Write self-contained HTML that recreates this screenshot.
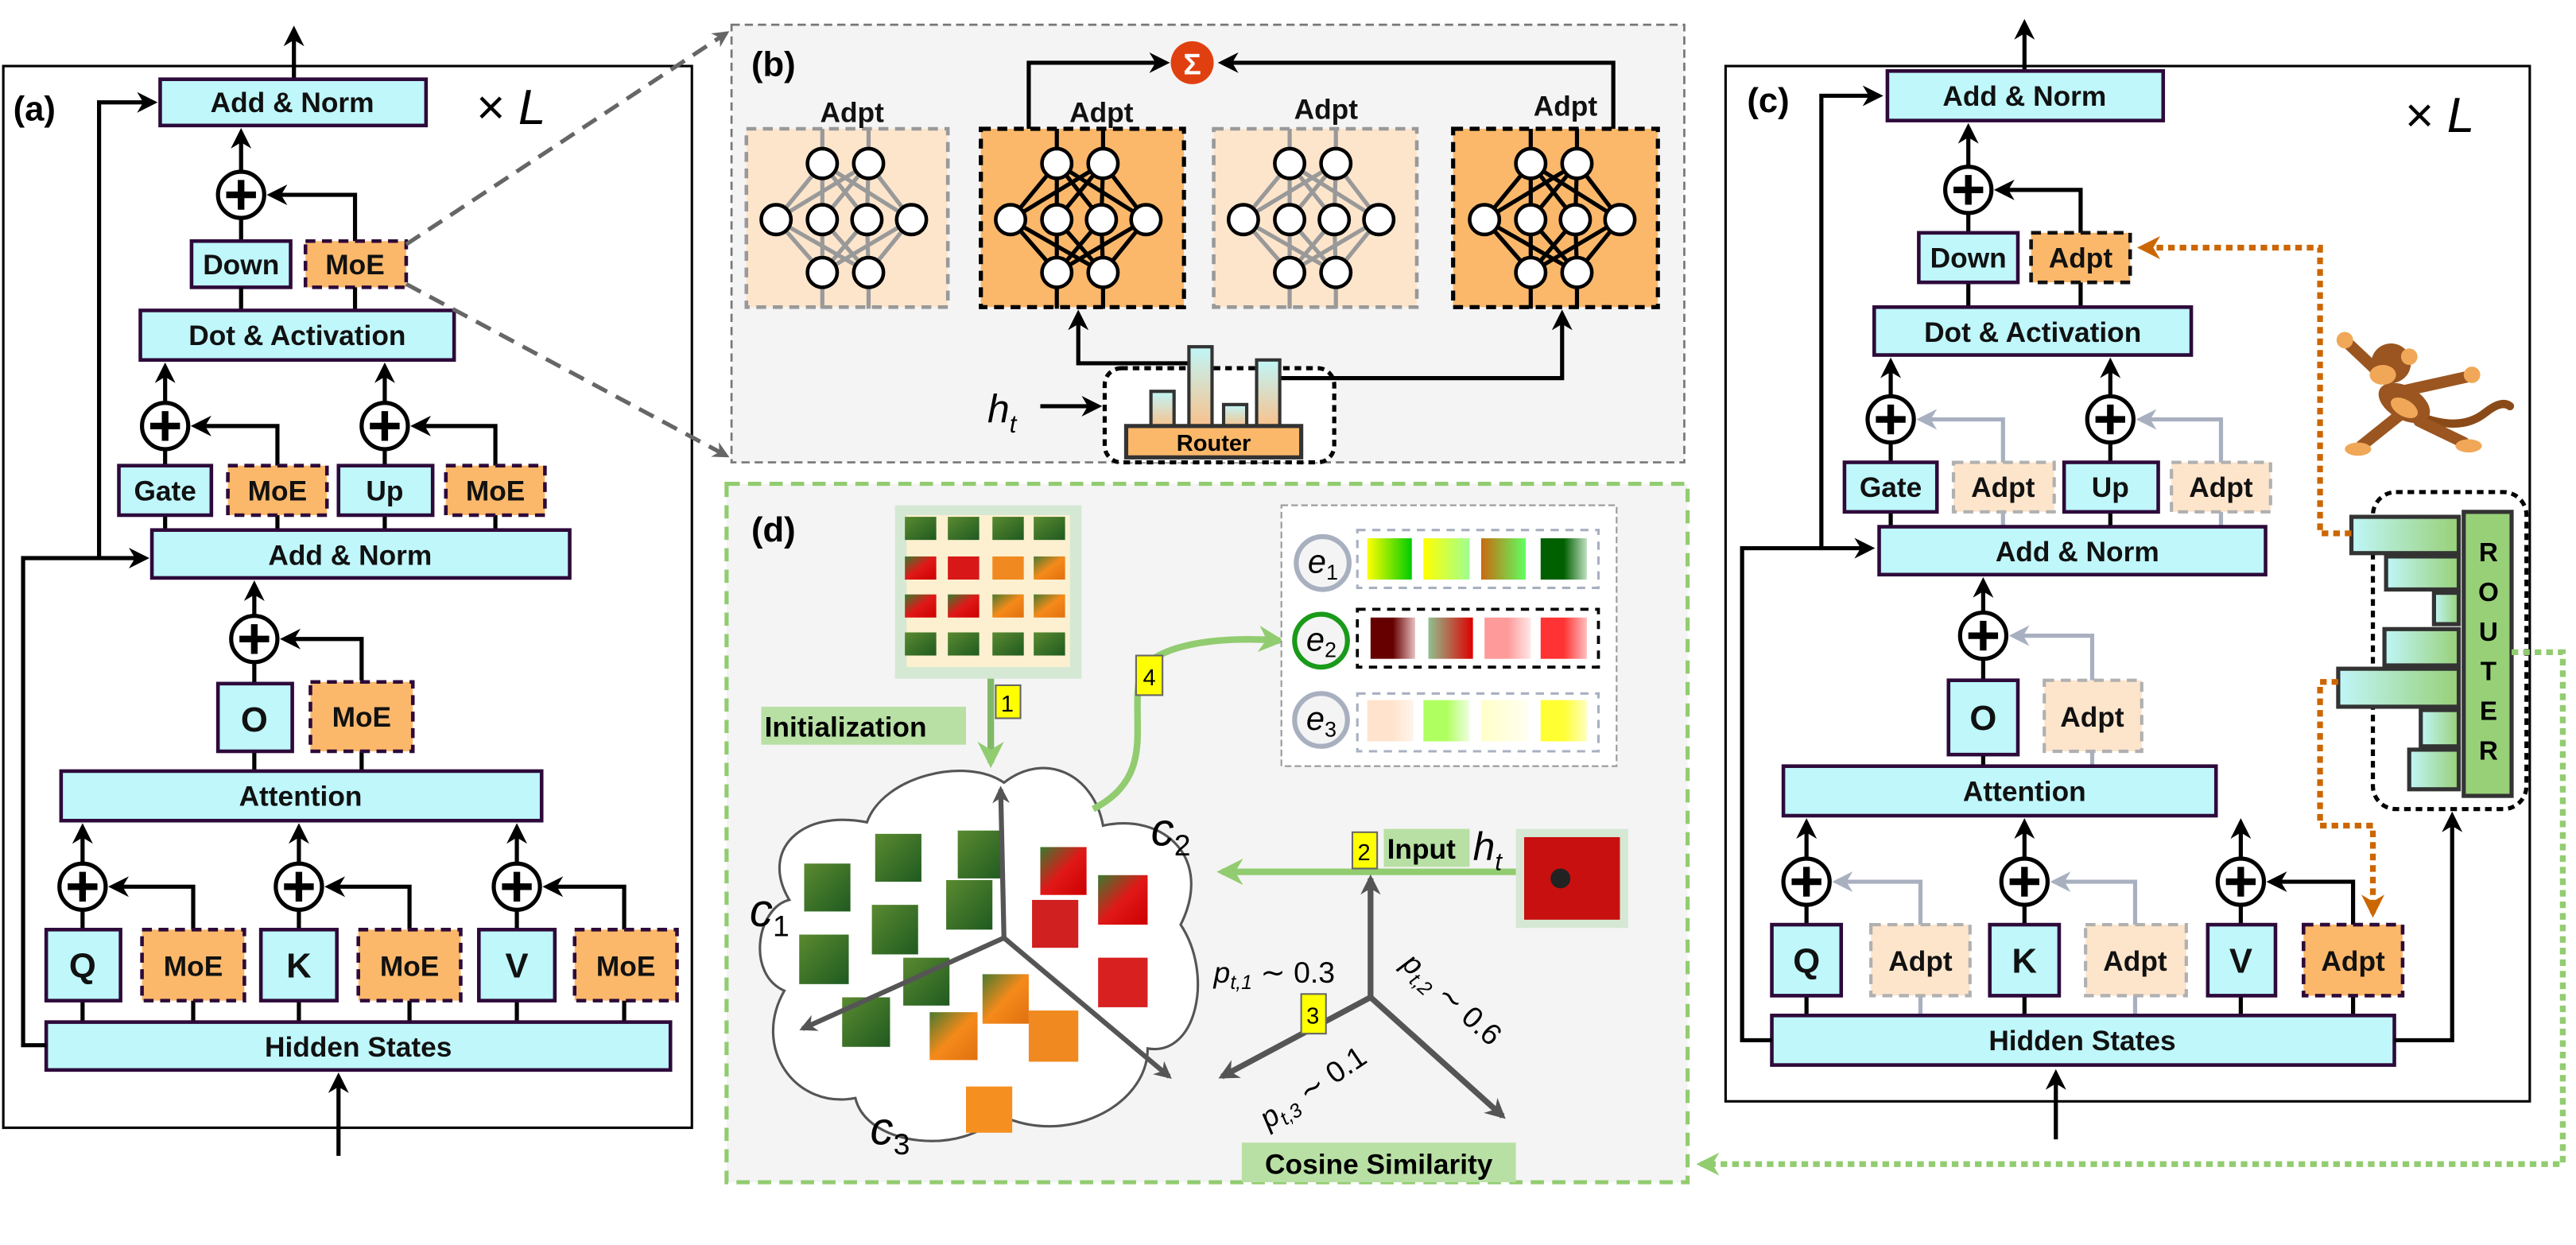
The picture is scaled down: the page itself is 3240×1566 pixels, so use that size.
<!DOCTYPE html>
<html><head><meta charset="utf-8"><style>
html,body{margin:0;padding:0;background:#fff;}
svg{display:block;}
text{font-family:"Liberation Sans",sans-serif;}
.b{fill:#bff7fb;stroke:#2d0a3a;stroke-width:2.2;}
.m{fill:#fbb86a;stroke:#2d0a3a;stroke-width:2.2;stroke-dasharray:6 4;}
.ma{fill:#fbb86a;stroke:#111;stroke-width:2.2;stroke-dasharray:6 4;}
.la{fill:#fde5cc;stroke:#b0b0b0;stroke-width:2;stroke-dasharray:6 4;}
.t{font-weight:bold;font-size:17px;text-anchor:middle;fill:#111;}
.tl{font-weight:bold;font-size:21px;text-anchor:middle;fill:#111;}
.k{stroke:#000;stroke-width:2.5;fill:none;}
.g{stroke:#a8b0c0;stroke-width:2.5;fill:none;}
.n{fill:#fff;stroke:#000;stroke-width:2.2;}
</style></head><body>
<svg width="3240" height="1566" viewBox="0 0 1560 754" xmlns="http://www.w3.org/2000/svg">
<defs>
<marker id="ah" viewBox="0 0 10 10" refX="8" refY="5" markerWidth="5" markerHeight="5" orient="auto"><path d="M0,0 L10,5 L0,10 L3,5z" fill="#000"/></marker>
<marker id="ahg" viewBox="0 0 10 10" refX="8" refY="5" markerWidth="5" markerHeight="5" orient="auto"><path d="M0,0 L10,5 L0,10 L3,5z" fill="#a8b0c0"/></marker>
<marker id="ahd" viewBox="0 0 10 10" refX="8" refY="5" markerWidth="4" markerHeight="4" orient="auto"><path d="M0,0 L10,5 L0,10 L3,5z" fill="#666"/></marker>
<marker id="aho" viewBox="0 0 10 10" refX="8" refY="5" markerWidth="4" markerHeight="4" orient="auto"><path d="M0,0 L10,5 L0,10 L3,5z" fill="#cc6600"/></marker>
<marker id="ahgr" viewBox="0 0 10 10" refX="8" refY="5" markerWidth="4" markerHeight="4" orient="auto"><path d="M0,0 L10,5 L0,10 L3,5z" fill="#92cc70"/></marker>
<marker id="ahdk" viewBox="0 0 10 10" refX="8" refY="5" markerWidth="3.5" markerHeight="3.5" orient="auto"><path d="M0,0 L10,5 L0,10 L3,5z" fill="#555"/></marker>
<g id="plus"><circle r="14" fill="#fff" stroke="#000" stroke-width="2.5"/><path d="M-9,0H9M0,-9V9" stroke="#000" stroke-width="4"/></g>
<g id="net">
<path d="M46,0V21M74,0V21M46,87V109M74,87V109M46,21L18,55M46,21L46,55M46,21L73,55M46,21L100,55M74,21L18,55M74,21L46,55M74,21L73,55M74,21L100,55M18,55L46,87M46,55L46,87M73,55L46,87M100,55L46,87M18,55L74,87M46,55L74,87M73,55L74,87M100,55L74,87" stroke="currentColor" stroke-width="2.5" fill="none"/>
<circle class="n" cx="46" cy="21" r="9"/><circle class="n" cx="74" cy="21" r="9"/>
<circle class="n" cx="18" cy="55" r="9"/><circle class="n" cx="46" cy="55" r="9"/><circle class="n" cx="73" cy="55" r="9"/><circle class="n" cx="100" cy="55" r="9"/>
<circle class="n" cx="46" cy="87" r="9"/><circle class="n" cx="74" cy="87" r="9"/>
</g>
<linearGradient id="tg" x1="0" x2="0" y1="0" y2="1"><stop offset="0" stop-color="#c0f6f8"/><stop offset="1" stop-color="#f9c08a"/></linearGradient>
<linearGradient id="rg" x1="0" x2="1"><stop offset="0" stop-color="#c0f6f8"/><stop offset="1" stop-color="#98d078"/></linearGradient>
<linearGradient id="gr1" x1="0" x2="1" y1="0" y2="1"><stop offset="0" stop-color="#5a8a30"/><stop offset="1" stop-color="#1f5a20"/></linearGradient>
<linearGradient id="rd1" x1="0" x2="1" y1="0" y2="1"><stop offset="0" stop-color="#3a7a30"/><stop offset=".5" stop-color="#e01818"/><stop offset="1" stop-color="#c00"/></linearGradient>
<linearGradient id="or1" x1="0" x2="1" y1="0" y2="1"><stop offset="0" stop-color="#4a7a30"/><stop offset=".5" stop-color="#f58a1a"/><stop offset="1" stop-color="#e07010"/></linearGradient>
<linearGradient id="s1" x1="0" x2="1"><stop offset="0" stop-color="#ff0"/><stop offset="1" stop-color="#0c0"/></linearGradient>
<linearGradient id="s2" x1="0" x2="1"><stop offset="0" stop-color="#ff0"/><stop offset="1" stop-color="#a0ff90"/></linearGradient>
<linearGradient id="s3" x1="0" x2="1"><stop offset="0" stop-color="#c86a10"/><stop offset="1" stop-color="#60ff60"/></linearGradient>
<linearGradient id="s4" x1="0" x2="1"><stop offset=".5" stop-color="#006000"/><stop offset="1" stop-color="#c0e0c0"/></linearGradient>
<linearGradient id="s5" x1="0" x2="1"><stop offset=".5" stop-color="#600"/><stop offset="1" stop-color="#e8c0c0"/></linearGradient>
<linearGradient id="s6" x1="0" x2="1"><stop offset="0" stop-color="#90c090"/><stop offset="1" stop-color="#d00"/></linearGradient>
<linearGradient id="s7" x1="0" x2="1"><stop offset=".5" stop-color="#ff9a9a"/><stop offset="1" stop-color="#ffe8e8"/></linearGradient>
<linearGradient id="s8" x1="0" x2="1"><stop offset=".5" stop-color="#f33"/><stop offset="1" stop-color="#ffc0c0"/></linearGradient>
<linearGradient id="s9" x1="0" x2="1"><stop offset=".5" stop-color="#ffe3cc"/><stop offset="1" stop-color="#fff4ea"/></linearGradient>
<linearGradient id="s10" x1="0" x2="1"><stop offset=".5" stop-color="#b0ff60"/><stop offset="1" stop-color="#f0ffe0"/></linearGradient>
<linearGradient id="s11" x1="0" x2="1"><stop offset="0" stop-color="#ffffc8"/><stop offset="1" stop-color="#fffff0"/></linearGradient>
<linearGradient id="s12" x1="0" x2="1"><stop offset=".5" stop-color="#ff3"/><stop offset="1" stop-color="#ffffc0"/></linearGradient>
</defs>

<!-- ================= PANEL A ================= -->
<rect x="2" y="40" width="417" height="643" fill="none" stroke="#000" stroke-width="1.5"/>
<text x="8" y="73" font-size="21" font-weight="bold">(a)</text>
<text x="288" y="75" font-family="Liberation Serif" font-size="30" font-style="italic">× L</text>
<line class="k" x1="178" y1="48" x2="178" y2="18" marker-end="url(#ah)"/>
<rect class="b" x="97" y="48" width="161" height="28"/><text class="t" x="177" y="68">Add &amp; Norm</text>
<use href="#plus" x="146" y="118"/>
<line class="k" x1="146" y1="104" x2="146" y2="80" marker-end="url(#ah)"/>
<path class="k" d="M215,146V118H164" marker-end="url(#ah)"/>
<line class="k" x1="146" y1="132" x2="146" y2="146"/>
<rect class="b" x="116" y="146" width="60" height="28"/><text class="t" x="146" y="166">Down</text>
<rect class="m" x="185" y="146" width="61" height="28"/><text class="t" x="215" y="166">MoE</text>
<path class="k" d="M146,174V188M215,174V188"/>
<rect class="b" x="85" y="188" width="190" height="30"/><text class="t" x="180" y="209">Dot &amp; Activation</text>
<use href="#plus" x="100" y="258"/><use href="#plus" x="233" y="258"/>
<line class="k" x1="100" y1="244" x2="100" y2="222" marker-end="url(#ah)"/>
<line class="k" x1="233" y1="244" x2="233" y2="222" marker-end="url(#ah)"/>
<path class="k" d="M168,282V258H118" marker-end="url(#ah)"/>
<path class="k" d="M300,282V258H251" marker-end="url(#ah)"/>
<path class="k" d="M100,272V282M233,272V282M100,312V321M168,312V321M233,312V321M300,312V321"/>
<rect class="b" x="72" y="282" width="56" height="30"/><text class="t" x="100" y="303">Gate</text>
<rect class="m" x="138" y="282" width="60" height="30"/><text class="t" x="168" y="303">MoE</text>
<rect class="b" x="205" y="282" width="57" height="30"/><text class="t" x="233" y="303">Up</text>
<rect class="m" x="270" y="282" width="60" height="30"/><text class="t" x="300" y="303">MoE</text>
<rect class="b" x="92" y="321" width="253" height="29"/><text class="t" x="212" y="342">Add &amp; Norm</text>
<use href="#plus" x="154" y="387"/>
<line class="k" x1="154" y1="373" x2="154" y2="354" marker-end="url(#ah)"/>
<path class="k" d="M219,412V387H172" marker-end="url(#ah)"/>
<path class="k" d="M154,401V414M154,455V467M219,455V467"/>
<rect class="b" x="132" y="414" width="45" height="41"/><text class="tl" x="154" y="443">O</text>
<rect class="m" x="188" y="413" width="62" height="42"/><text class="t" x="219" y="440">MoE</text>
<rect class="b" x="37" y="467" width="291" height="30"/><text class="t" x="182" y="488">Attention</text>
<use href="#plus" x="50" y="537"/><use href="#plus" x="181" y="537"/><use href="#plus" x="313" y="537"/>
<line class="k" x1="50" y1="523" x2="50" y2="501" marker-end="url(#ah)"/>
<line class="k" x1="181" y1="523" x2="181" y2="501" marker-end="url(#ah)"/>
<line class="k" x1="313" y1="523" x2="313" y2="501" marker-end="url(#ah)"/>
<path class="k" d="M117,563V537H68" marker-end="url(#ah)"/>
<path class="k" d="M248,563V537H199" marker-end="url(#ah)"/>
<path class="k" d="M378,563V537H331" marker-end="url(#ah)"/>
<path class="k" d="M50,551V563M181,551V563M313,551V563M50,606V619M117,606V619M181,606V619M248,606V619M313,606V619M378,606V619"/>
<rect class="b" x="28" y="563" width="45" height="43"/><text class="tl" x="50" y="592">Q</text>
<rect class="m" x="86" y="563" width="62" height="43"/><text class="t" x="117" y="591">MoE</text>
<rect class="b" x="158" y="563" width="46" height="43"/><text class="tl" x="181" y="592">K</text>
<rect class="m" x="217" y="563" width="62" height="43"/><text class="t" x="248" y="591">MoE</text>
<rect class="b" x="290" y="563" width="46" height="43"/><text class="tl" x="313" y="592">V</text>
<rect class="m" x="348" y="563" width="62" height="43"/><text class="t" x="379" y="591">MoE</text>
<rect class="b" x="28" y="619" width="378" height="29"/><text class="t" x="217" y="640">Hidden States</text>
<line class="k" x1="205" y1="700" x2="205" y2="652" marker-end="url(#ah)"/>
<path class="k" d="M28,633H14V338H88" marker-end="url(#ah)"/>
<path class="k" d="M60,338V62H93" marker-end="url(#ah)"/>
<line x1="246" y1="148" x2="440" y2="20" stroke="#666" stroke-width="2.5" stroke-dasharray="10 6" marker-end="url(#ahd)"/>
<line x1="246" y1="172" x2="440" y2="276" stroke="#666" stroke-width="2.5" stroke-dasharray="10 6" marker-end="url(#ahd)"/>

<!-- ================= PANEL B ================= -->
<rect x="443" y="15" width="577" height="265" fill="#f4f4f4" stroke="#777" stroke-width="1.3" stroke-dasharray="5 3"/>
<text x="455" y="46" font-size="21" font-weight="bold">(b)</text>
<rect x="452" y="78" width="122" height="108" fill="#fde5cc" stroke="#999" stroke-width="2.2" stroke-dasharray="6 4"/>
<rect x="594" y="78" width="123" height="108" fill="#fbb86a" stroke="#000" stroke-width="2.5" stroke-dasharray="6 4"/>
<rect x="735" y="78" width="123" height="108" fill="#fde5cc" stroke="#999" stroke-width="2.2" stroke-dasharray="6 4"/>
<rect x="880" y="78" width="124" height="108" fill="#fbb86a" stroke="#000" stroke-width="2.5" stroke-dasharray="6 4"/>
<use href="#net" x="452" y="78" color="#999"/>
<use href="#net" x="594" y="78" color="#000"/>
<use href="#net" x="735" y="78" color="#999"/>
<use href="#net" x="881" y="78" color="#000"/>
<text class="t" x="516" y="74" font-size="16">Adpt</text>
<text class="t" x="667" y="74" font-size="16">Adpt</text>
<text class="t" x="803" y="72" font-size="16">Adpt</text>
<text class="t" x="948" y="70" font-size="16">Adpt</text>
<path class="k" d="M623,78V38H706" marker-end="url(#ah)"/>
<path class="k" d="M977,78V38H740" marker-end="url(#ah)"/>
<circle cx="722" cy="38" r="13" fill="#e0400f"/><text x="722" y="45" font-size="18" text-anchor="middle" fill="#fff" font-weight="bold">Σ</text>
<rect x="669" y="223" width="139" height="57" rx="10" fill="#fff" stroke="#000" stroke-width="2.5" stroke-dasharray="4 3"/>
<path class="k" d="M724,220H653V190" marker-end="url(#ah)"/>
<path class="k" d="M765,229H946V190" marker-end="url(#ah)"/>
<rect x="697" y="237" width="14" height="22" fill="url(#tg)" stroke="#333" stroke-width="2"/>
<rect x="720" y="210" width="14" height="49" fill="url(#tg)" stroke="#333" stroke-width="2"/>
<rect x="741" y="245" width="14" height="14" fill="url(#tg)" stroke="#333" stroke-width="2"/>
<rect x="761" y="218" width="14" height="41" fill="url(#tg)" stroke="#333" stroke-width="2"/>
<rect x="682" y="258" width="106" height="19" fill="#fbb86a" stroke="#333" stroke-width="2.5"/>
<text x="735" y="273" font-size="14" text-anchor="middle" font-weight="bold">Router</text>
<text x="598" y="256" font-family="Liberation Serif" font-size="24" font-style="italic">h<tspan font-size="15" dy="6">t</tspan></text>
<line class="k" x1="630" y1="246" x2="665" y2="246" marker-end="url(#ah)"/>

<!-- ================= PANEL D ================= -->
<rect x="440" y="293" width="582" height="423" fill="#f4f4f4" stroke="#92cc70" stroke-width="2.5" stroke-dasharray="8 5"/>
<text x="455" y="328" font-size="21" font-weight="bold">(d)</text>
<rect x="542" y="306" width="113" height="105" fill="#d5e8d4"/>
<rect x="549" y="312" width="99" height="92" fill="#fdf0d0"/>
<g>
<rect x="548" y="313" width="19" height="14" fill="url(#gr1)"/><rect x="574" y="313" width="19" height="14" fill="url(#gr1)"/><rect x="601" y="313" width="19" height="14" fill="url(#gr1)"/><rect x="626" y="313" width="19" height="14" fill="url(#gr1)"/>
<rect x="548" y="337" width="19" height="14" fill="url(#rd1)"/><rect x="574" y="337" width="19" height="14" fill="#d81818"/><rect x="601" y="337" width="19" height="14" fill="#f08a20"/><rect x="626" y="337" width="19" height="14" fill="url(#or1)"/>
<rect x="548" y="360" width="19" height="14" fill="url(#rd1)"/><rect x="574" y="360" width="19" height="14" fill="url(#rd1)"/><rect x="601" y="360" width="19" height="14" fill="url(#or1)"/><rect x="626" y="360" width="19" height="14" fill="url(#or1)"/>
<rect x="548" y="383" width="19" height="14" fill="url(#gr1)"/><rect x="574" y="383" width="19" height="14" fill="url(#gr1)"/><rect x="601" y="383" width="19" height="14" fill="url(#gr1)"/><rect x="626" y="383" width="19" height="14" fill="url(#gr1)"/>
</g>
<line x1="600" y1="411" x2="600" y2="462" stroke="#80b868" stroke-width="4" marker-end="url(#ahgr)"/>
<rect x="603" y="415" width="15" height="20" fill="#ff0" stroke="#666" stroke-width="1"/><text x="610" y="431" font-size="14" text-anchor="middle">1</text>
<rect x="461" y="428" width="124" height="23" fill="#b8e0a4"/><text x="463" y="446" font-size="17" font-weight="bold">Initialization</text>
<path d="M475,600 C452,590 458,550 478,545 C460,515 485,490 525,498 C535,470 585,458 608,474 C632,455 662,468 668,500 C705,492 735,520 715,560 C735,590 725,640 695,635 C695,670 645,695 605,675 C585,700 525,695 518,665 C482,672 455,635 475,600 Z" fill="#fff" stroke="#555" stroke-width="1.5"/>
<g>
<rect x="530" y="505" width="28" height="29" fill="url(#gr1)"/><rect x="487" y="523" width="28" height="29" fill="url(#gr1)"/>
<rect x="580" y="503" width="28" height="29" fill="url(#gr1)"/><rect x="630" y="513" width="28" height="29" fill="url(#rd1)"/>
<rect x="665" y="530" width="30" height="30" fill="url(#rd1)"/><rect x="528" y="548" width="28" height="30" fill="url(#gr1)"/>
<rect x="573" y="533" width="28" height="30" fill="url(#gr1)"/><rect x="625" y="545" width="28" height="29" fill="#d02020"/>
<rect x="484" y="566" width="30" height="30" fill="url(#gr1)"/><rect x="547" y="580" width="28" height="29" fill="url(#gr1)"/>
<rect x="595" y="590" width="28" height="30" fill="url(#or1)"/><rect x="665" y="580" width="30" height="30" fill="#d82020"/>
<rect x="510" y="604" width="29" height="30" fill="url(#gr1)"/><rect x="563" y="613" width="29" height="29" fill="url(#or1)"/>
<rect x="623" y="612" width="30" height="31" fill="#f08a20"/><rect x="585" y="658" width="28" height="28" fill="#f59020"/>
</g>
<line x1="608" y1="568" x2="606" y2="478" stroke="#555" stroke-width="3" marker-end="url(#ahdk)"/>
<line x1="608" y1="568" x2="486" y2="623" stroke="#555" stroke-width="3" marker-end="url(#ahdk)"/>
<line x1="608" y1="568" x2="708" y2="652" stroke="#555" stroke-width="3" marker-end="url(#ahdk)"/>
<text x="454" y="561" font-family="Liberation Serif" font-size="28" font-style="italic">c<tspan font-size="18" dy="6" font-style="normal">1</tspan></text>
<text x="697" y="512" font-family="Liberation Serif" font-size="28" font-style="italic">c<tspan font-size="18" dy="6" font-style="normal">2</tspan></text>
<text x="527" y="693" font-family="Liberation Serif" font-size="28" font-style="italic">c<tspan font-size="18" dy="6" font-style="normal">3</tspan></text>
<line x1="918" y1="528" x2="740" y2="528" stroke="#92cc70" stroke-width="4" marker-end="url(#ahgr)"/>
<rect x="918" y="502" width="68" height="60" fill="#d5e8d4"/><rect x="923" y="507" width="58" height="50" fill="#c81010"/><circle cx="945" cy="532" r="6" fill="#222"/>
<rect x="838" y="502" width="52" height="23" fill="#b8e0a4"/><text x="840" y="520" font-size="17" font-weight="bold">Input</text>
<text x="892" y="521" font-family="Liberation Serif" font-size="24" font-style="italic">h<tspan font-size="15" dy="6">t</tspan></text>
<rect x="819" y="504" width="15" height="22" fill="#ff0" stroke="#666" stroke-width="1"/><text x="826" y="521" font-size="14" text-anchor="middle">2</text>
<line x1="830" y1="604" x2="830" y2="532" stroke="#555" stroke-width="3.5" marker-end="url(#ahdk)"/>
<line x1="830" y1="604" x2="740" y2="652" stroke="#555" stroke-width="3.5" marker-end="url(#ahdk)"/>
<line x1="830" y1="604" x2="910" y2="676" stroke="#555" stroke-width="3.5" marker-end="url(#ahdk)"/>
<rect x="788" y="602" width="15" height="24" fill="#ff0" stroke="#666" stroke-width="1"/><text x="795" y="620" font-size="14" text-anchor="middle">3</text>
<text x="735" y="595" font-family="Liberation Serif" font-size="18" font-style="italic">p<tspan font-size="12" dy="4">t,1</tspan><tspan dy="-4" font-style="normal"> ∼ 0.3</tspan></text>
<text x="0" y="0" font-family="Liberation Serif" font-size="18" font-style="italic" transform="translate(848,585) rotate(42)">p<tspan font-size="12" dy="4">t,2</tspan><tspan dy="-4" font-style="normal"> ∼ 0.6</tspan></text>
<text x="0" y="0" font-family="Liberation Serif" font-size="18" font-style="italic" transform="translate(768,684) rotate(-34)">p<tspan font-size="12" dy="4">t,3</tspan><tspan dy="-4" font-style="normal"> ∼ 0.1</tspan></text>
<rect x="752" y="692" width="166" height="24" fill="#b8e0a4"/><text x="835" y="711" font-size="17" font-weight="bold" text-anchor="middle">Cosine Similarity</text>
<path d="M662,490 C700,470 685,440 690,410 C695,390 740,385 775,388" stroke="#92cc70" stroke-width="4" fill="none" marker-end="url(#ahgr)"/>
<rect x="688" y="397" width="16" height="24" fill="#ff0" stroke="#666" stroke-width="1"/><text x="696" y="415" font-size="14" text-anchor="middle">4</text>
<rect x="776" y="306" width="203" height="158" fill="#fff" stroke="#999" stroke-width="1" stroke-dasharray="4 2"/>
<rect x="822" y="321" width="146" height="35" fill="none" stroke="#a8b0c0" stroke-width="1.5" stroke-dasharray="5 4"/>
<rect x="822" y="369" width="146" height="35" fill="none" stroke="#000" stroke-width="1.8" stroke-dasharray="5 4"/>
<rect x="822" y="420" width="146" height="35" fill="none" stroke="#a8b0c0" stroke-width="1.5" stroke-dasharray="5 4"/>
<rect x="828" y="326" width="27" height="25" fill="url(#s1)"/><rect x="862" y="326" width="28" height="25" fill="url(#s2)"/><rect x="897" y="326" width="27" height="25" fill="url(#s3)"/><rect x="933" y="326" width="28" height="25" fill="url(#s4)"/>
<rect x="830" y="374" width="27" height="25" fill="url(#s5)"/><rect x="865" y="374" width="27" height="25" fill="url(#s6)"/><rect x="899" y="374" width="28" height="25" fill="url(#s7)"/><rect x="933" y="374" width="28" height="25" fill="url(#s8)"/>
<rect x="828" y="424" width="28" height="25" fill="url(#s9)"/><rect x="862" y="424" width="28" height="25" fill="url(#s10)"/><rect x="897" y="424" width="28" height="25" fill="url(#s11)"/><rect x="933" y="424" width="28" height="25" fill="url(#s12)"/>
<circle cx="801" cy="341" r="16" fill="#f4f4f4" stroke="#a8b0c0" stroke-width="3"/>
<circle cx="800" cy="388" r="16" fill="#f4f4f4" stroke="#1a9a1a" stroke-width="3"/>
<circle cx="800" cy="436" r="16" fill="#f4f4f4" stroke="#a8b0c0" stroke-width="3"/>
<text x="792" y="347" font-family="Liberation Serif" font-size="20" font-style="italic">e<tspan font-size="13" dy="4" font-style="normal">1</tspan></text>
<text x="791" y="394" font-family="Liberation Serif" font-size="20" font-style="italic">e<tspan font-size="13" dy="4" font-style="normal">2</tspan></text>
<text x="791" y="442" font-family="Liberation Serif" font-size="20" font-style="italic">e<tspan font-size="13" dy="4" font-style="normal">3</tspan></text>

<!-- ================= PANEL C ================= -->
<rect x="1045" y="40" width="487" height="627" fill="none" stroke="#000" stroke-width="1.5"/>
<text x="1058" y="68" font-size="21" font-weight="bold">(c)</text>
<text x="1456" y="80" font-family="Liberation Serif" font-size="30" font-style="italic">× L</text>
<line class="k" x1="1226" y1="43" x2="1226" y2="14" marker-end="url(#ah)"/>
<rect class="b" x="1143" y="43" width="167" height="30"/><text class="t" x="1226" y="64">Add &amp; Norm</text>
<use href="#plus" x="1192" y="115"/>
<line class="k" x1="1192" y1="101" x2="1192" y2="77" marker-end="url(#ah)"/>
<path class="k" d="M1260,141V115H1210" marker-end="url(#ah)"/>
<path class="k" d="M1192,129V141M1192,171V186M1260,171V186"/>
<rect class="b" x="1162" y="141" width="60" height="30"/><text class="t" x="1192" y="162">Down</text>
<rect class="ma" x="1230" y="141" width="60" height="30"/><text class="t" x="1260" y="162">Adpt</text>
<rect class="b" x="1135" y="186" width="192" height="29"/><text class="t" x="1231" y="207">Dot &amp; Activation</text>
<use href="#plus" x="1145" y="254"/><use href="#plus" x="1278" y="254"/>
<line class="k" x1="1145" y1="240" x2="1145" y2="219" marker-end="url(#ah)"/>
<line class="k" x1="1278" y1="240" x2="1278" y2="219" marker-end="url(#ah)"/>
<path class="g" d="M1213,280V254H1163" marker-end="url(#ahg)"/>
<path class="g" d="M1345,280V254H1296" marker-end="url(#ahg)"/>
<path class="k" d="M1145,268V280M1278,268V280M1145,310V319M1278,310V319"/>
<path class="g" d="M1213,310V319M1345,310V319"/>
<rect class="b" x="1117" y="280" width="56" height="30"/><text class="t" x="1145" y="301">Gate</text>
<rect class="la" x="1183" y="280" width="61" height="30"/><text class="t" x="1213" y="301">Adpt</text>
<rect class="b" x="1250" y="280" width="57" height="30"/><text class="t" x="1278" y="301">Up</text>
<rect class="la" x="1315" y="280" width="60" height="30"/><text class="t" x="1345" y="301">Adpt</text>
<rect class="b" x="1138" y="319" width="234" height="29"/><text class="t" x="1258" y="340">Add &amp; Norm</text>
<use href="#plus" x="1201" y="385"/>
<line class="k" x1="1201" y1="371" x2="1201" y2="352" marker-end="url(#ah)"/>
<path class="g" d="M1267,412V385H1219" marker-end="url(#ahg)"/>
<path class="k" d="M1201,399V412M1201,457V464"/><path class="g" d="M1267,455V464"/>
<rect class="b" x="1180" y="412" width="42" height="45"/><text class="tl" x="1201" y="442">O</text>
<rect class="la" x="1238" y="412" width="59" height="43"/><text class="t" x="1267" y="440">Adpt</text>
<rect class="b" x="1080" y="464" width="262" height="30"/><text class="t" x="1226" y="485">Attention</text>
<use href="#plus" x="1094" y="534"/><use href="#plus" x="1226" y="534"/><use href="#plus" x="1357" y="534"/>
<line class="k" x1="1094" y1="520" x2="1094" y2="498" marker-end="url(#ah)"/>
<line class="k" x1="1226" y1="520" x2="1226" y2="498" marker-end="url(#ah)"/>
<line class="k" x1="1357" y1="520" x2="1357" y2="498" marker-end="url(#ah)"/>
<path class="g" d="M1163,560V534H1112" marker-end="url(#ahg)"/>
<path class="g" d="M1293,560V534H1244" marker-end="url(#ahg)"/>
<path class="k" d="M1425,560V534H1375" marker-end="url(#ah)"/>
<path class="k" d="M1094,548V560M1226,548V560M1357,548V560M1094,603V615M1226,603V615M1357,603V615M1425,603V615"/>
<path class="g" d="M1163,603V615M1293,603V615"/>
<rect class="b" x="1073" y="560" width="42" height="43"/><text class="tl" x="1094" y="589">Q</text>
<rect class="la" x="1133" y="560" width="60" height="43"/><text class="t" x="1163" y="588">Adpt</text>
<rect class="b" x="1205" y="560" width="42" height="43"/><text class="tl" x="1226" y="589">K</text>
<rect class="la" x="1263" y="560" width="61" height="43"/><text class="t" x="1293" y="588">Adpt</text>
<rect class="b" x="1337" y="560" width="41" height="43"/><text class="tl" x="1357" y="589">V</text>
<rect class="m" x="1395" y="560" width="60" height="43"/><text class="t" x="1425" y="588">Adpt</text>
<rect class="b" x="1073" y="615" width="377" height="30"/><text class="t" x="1261" y="636">Hidden States</text>
<line class="k" x1="1245" y1="690" x2="1245" y2="650" marker-end="url(#ah)"/>
<path class="k" d="M1073,630H1055V332H1133" marker-end="url(#ah)"/>
<path class="k" d="M1103,332V58H1138" marker-end="url(#ah)"/>
<path class="k" d="M1450,630H1485V494" marker-end="url(#ah)"/>
<rect x="1437" y="298" width="93" height="192" rx="14" fill="#fff" stroke="#000" stroke-width="2.5" stroke-dasharray="4 3"/>
<rect x="1492" y="310" width="29" height="172" fill="#98d078" stroke="#333" stroke-width="2.5"/>
<text x="1507" y="340" font-size="16" font-weight="bold" text-anchor="middle">R</text>
<text x="1507" y="364" font-size="16" font-weight="bold" text-anchor="middle">O</text>
<text x="1507" y="388" font-size="16" font-weight="bold" text-anchor="middle">U</text>
<text x="1507" y="412" font-size="16" font-weight="bold" text-anchor="middle">T</text>
<text x="1507" y="436" font-size="16" font-weight="bold" text-anchor="middle">E</text>
<text x="1507" y="460" font-size="16" font-weight="bold" text-anchor="middle">R</text>
<g fill="url(#rg)" stroke="#333" stroke-width="2.5">
<rect x="1424" y="313" width="65" height="22"/>
<rect x="1445" y="337" width="44" height="20"/>
<rect x="1474" y="359" width="15" height="19"/>
<rect x="1444" y="381" width="45" height="22"/>
<rect x="1416" y="405" width="73" height="23"/>
<rect x="1466" y="430" width="23" height="22"/>
<rect x="1459" y="454" width="30" height="24"/>
</g>
<path d="M1424,323H1405V150H1297" stroke="#cc6600" stroke-width="3.5" stroke-dasharray="4 3" fill="none" marker-end="url(#aho)"/>
<path d="M1416,413H1405V500H1437V553" stroke="#cc6600" stroke-width="3.5" stroke-dasharray="4 3" fill="none" marker-end="url(#aho)"/>
<path d="M1521,395H1552V705H1030" stroke="#92cc70" stroke-width="3.5" stroke-dasharray="4 3" fill="none" marker-end="url(#ahgr)"/>
<!-- monkey -->
<g>
<path d="M1465,252 Q1490,262 1505,250 Q1515,242 1520,246" stroke="#8a4a18" stroke-width="5" fill="none" stroke-linecap="round"/>
<path d="M1440,225 L1422,208 M1450,238 L1495,228 M1455,250 L1430,270 M1465,255 L1492,268" stroke="#9a5520" stroke-width="7" stroke-linecap="round"/>
<ellipse cx="1456" cy="244" rx="17" ry="10" fill="#9a5520" transform="rotate(30 1456 244)"/>
<ellipse cx="1456" cy="247" rx="9" ry="5" fill="#f0a858" transform="rotate(30 1456 247)"/>
<circle cx="1448" cy="220" r="12" fill="#9a5520"/>
<ellipse cx="1443" cy="227" rx="8" ry="6" fill="#f0a858"/>
<circle cx="1459" cy="216" r="5" fill="#f0a858"/>
<circle cx="1420" cy="206" r="5" fill="#f0a858"/><circle cx="1497" cy="227" r="5" fill="#f0a858"/>
<ellipse cx="1428" cy="272" rx="8" ry="4" fill="#f0a858"/><ellipse cx="1495" cy="270" rx="8" ry="4" fill="#f0a858"/>
</g>
</svg>
</body></html>
